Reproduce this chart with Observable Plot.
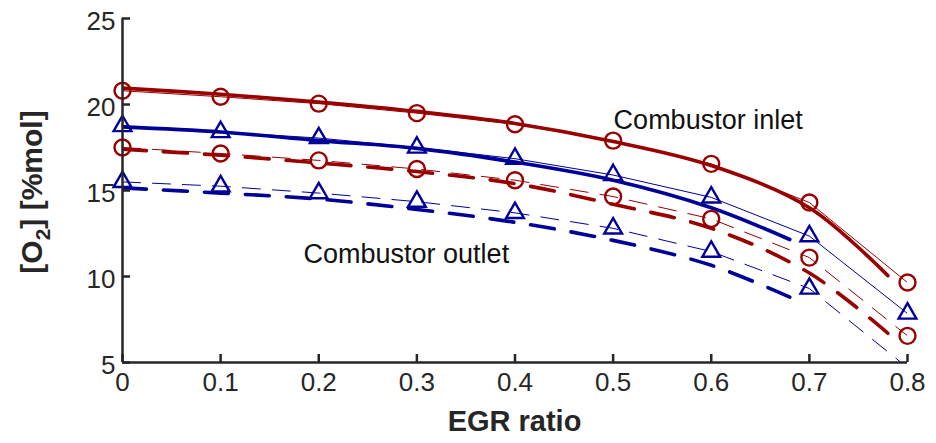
<!DOCTYPE html>
<html>
<head>
<meta charset="utf-8">
<script src="https://cdn.jsdelivr.net/npm/d3@7"></script>
<script src="https://cdn.jsdelivr.net/npm/@observablehq/plot@0.6"></script>
<style>
  body { margin: 0; background: #fff; }
  #chart { width: 936px; height: 443px; }
</style>
</head>
<body>
<div id="chart"></div>
<script>
// ---- data ----
const egr = [0, 0.1, 0.2, 0.3, 0.4, 0.5, 0.6, 0.7, 0.8];

// measured points (thin lines + markers)
const inletRed   = [20.8, 20.45, 20.05, 19.5, 18.85, 17.9, 16.55, 14.3, 9.65];
const inletBlue  = [18.75, 18.4, 18.05, 17.5, 16.85, 15.9, 14.6, 12.35, 7.85];
const outletRed  = [17.5, 17.15, 16.75, 16.25, 15.6, 14.65, 13.35, 11.1, 6.55];
const outletBlue = [15.5, 15.25, 14.85, 14.35, 13.7, 12.8, 11.45, 9.3, 4.7];

// model curves (thick lines)
const modelXRed  = [0, 0.1, 0.2, 0.3, 0.4, 0.5, 0.6, 0.7, 0.78];
const modelXBlue = [0, 0.1, 0.2, 0.3, 0.4, 0.5, 0.6, 0.68];
const modelInletRed   = [20.95, 20.6, 20.15, 19.6, 18.9, 17.85, 16.45, 14.0, 10.05];
const modelInletBlue  = [18.7, 18.4, 17.9, 17.45, 16.65, 15.6, 14.0, 12.15];
const modelOutletRed  = [17.4, 17.05, 16.6, 16.1, 15.4, 14.2, 12.8, 10.2, 6.7];
const modelOutletBlue = [15.15, 14.85, 14.5, 13.9, 13.15, 12.1, 10.65, 8.8];

// axes ticks
const xTicks = [0, 0.1, 0.2, 0.3, 0.4, 0.5, 0.6, 0.7, 0.8];
const yTicks = [5, 10, 15, 20, 25];

// annotations
const notes = [
  {x: 0.5005, y: 18.55, text: "Combustor inlet"},
  {x: 0.1845, y: 10.81, text: "Combustor outlet"}
];

// ---- build ----
const RED = "#990000";
const BLUE = "#000099";
const AXIS = "#262626";
const FONT = "'Liberation Sans', Arial, Helvetica, sans-serif";

const rows = (xs, ys) => xs.map((x, i) => ({x, y: ys[i]}));

const thinSeries = [
  {data: rows(egr, inletRed),   color: RED,  dash: null,    symbol: "circle"},
  {data: rows(egr, inletBlue),  color: BLUE, dash: null,    symbol: "triangle"},
  {data: rows(egr, outletRed),  color: RED,  dash: "18,12", symbol: "circle"},
  {data: rows(egr, outletBlue), color: BLUE, dash: "18,12", symbol: "triangle"}
];
const thickSeries = [
  {data: rows(modelXRed, modelInletRed),    color: RED,  dash: null},
  {data: rows(modelXBlue, modelInletBlue),  color: BLUE, dash: null},
  {data: rows(modelXRed, modelOutletRed),   color: RED,  dash: "24,17"},
  {data: rows(modelXBlue, modelOutletBlue), color: BLUE, dash: "24,17"}
];

const marginTop = 18, marginBottom = 81, marginLeft = 122, marginRight = 29;
const H = 443, W = 936;
const pxPerY = (H - marginTop - marginBottom) / (25 - 5);
const pxPerX = (W - marginLeft - marginRight) / 0.8;
const tickLen = 8;

const marks = [];
for (const s of thinSeries) {
  marks.push(Plot.line(s.data, {x: "x", y: "y", stroke: s.color, strokeWidth: 1, strokeDasharray: s.dash, clip: true}));
}
for (const s of thickSeries) {
  marks.push(Plot.line(s.data, {x: "x", y: "y", stroke: s.color, strokeWidth: 3.6, strokeDasharray: s.dash, curve: "catmull-rom", clip: true}));
}
for (const s of thinSeries) {
  marks.push(Plot.dot(s.data.filter(d => d.y >= 5), {
    x: "x", y: "y", symbol: s.symbol, stroke: s.color, fill: "none",
    strokeWidth: 2.4, r: s.symbol === "circle" ? 8 : 6.6
  }));
}
// axis lines
marks.push(Plot.ruleX([0], {stroke: AXIS, strokeWidth: 2.5}));
marks.push(Plot.ruleY([5], {stroke: AXIS, strokeWidth: 2.5}));
// inward ticks
marks.push(Plot.ruleX(xTicks, {x: d => d, y1: 5, y2: 5 + tickLen / pxPerY, stroke: AXIS, strokeWidth: 2.5}));
marks.push(Plot.ruleY(yTicks, {y: d => d, x1: 0, x2: tickLen / pxPerX, stroke: AXIS, strokeWidth: 2.5}));
// tick labels
marks.push(Plot.axisX({ticks: xTicks, tickSize: 0, tickPadding: 10, tickFormat: d => String(d), label: null, fontSize: 26, fill: "#262626"}));
marks.push(Plot.axisY({ticks: yTicks, tickSize: 0, tickPadding: 7, tickFormat: d => String(d), label: null, fontSize: 26, fill: "#262626", dy: 3}));
// annotations
marks.push(Plot.text(notes, {x: "x", y: "y", text: "text", textAnchor: "start", lineAnchor: "bottom", fontSize: 27, fill: "#111"}));

const chart = Plot.plot({
  width: W, height: H,
  marginTop, marginBottom, marginLeft, marginRight,
  x: {domain: [0, 0.8]},
  y: {domain: [5, 25]},
  style: {fontFamily: FONT, background: "#fff", overflow: "visible"},
  marks
});

const svg = d3.select(chart);
// x label
svg.append("text")
  .attr("x", (marginLeft + W - marginRight) / 2)
  .attr("y", 431)
  .attr("text-anchor", "middle")
  .attr("font-family", FONT)
  .attr("font-weight", "bold")
  .attr("font-size", 29)
  .attr("fill", "#262626")
  .text("EGR ratio");
// y label with subscript
const yl = svg.append("text")
  .attr("transform", `translate(42,${(marginTop + H - marginBottom) / 2 + 2}) rotate(-90)`)
  .attr("text-anchor", "middle")
  .attr("font-family", FONT)
  .attr("font-weight", "bold")
  .attr("font-size", 30)
  .attr("fill", "#262626");
yl.append("tspan").text("[O");
yl.append("tspan").attr("font-size", 21).attr("dy", 8).text("2");
yl.append("tspan").attr("dy", -8).text("] [%mol]");

document.getElementById("chart").appendChild(chart);
</script>
</body>
</html>
